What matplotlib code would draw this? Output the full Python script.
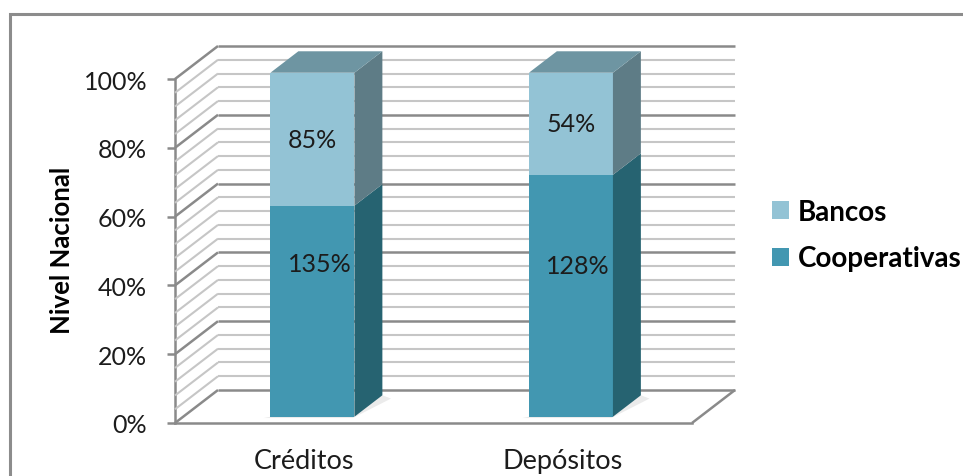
import matplotlib
matplotlib.use("Agg")
import matplotlib.pyplot as plt
import numpy as np
from matplotlib.patches import Polygon, Rectangle, Patch
from matplotlib.lines import Line2D
from matplotlib.transforms import IdentityTransform

# ---------------- data ----------------
categories = ["Créditos", "Depósitos"]
cooperativas = [135, 128]   # data labels of the lower segment
bancos = [85, 54]           # data labels of the upper segment
ytick_values = [0, 20, 40, 60, 80, 100]
ytick_labels = ["0%", "20%", "40%", "60%", "80%", "100%"]
ylabel = "Nivel Nacional"
legend_labels = ["Bancos", "Cooperativas"]

# ---------------- style ----------------
plt.rcParams["font.family"] = ["Lato", "DejaVu Sans"]
TXT = "#1c1c1c"
C_BAN = ("#93C3D5", "#5E7C86", "#6E95A2")   # front, side, top
C_COO = ("#4297B1", "#266371", "#3C7F92")
GRID_MAJ = "#8a8a8a"
GRID_MIN = "#c6c6c6"
DEPTH = np.array([43.0, 33.0])   # pixel depth of the back wall
BAR_D0, BAR_D1 = 0.19, 0.84      # bar depth span (fraction of DEPTH)
BAR_W = 0.325
COOP_LABEL_Y = [44.5, 44.0]      # where the chart placed the lower labels
FS = 18

W, H, DPI = 963, 477, 100
fig = plt.figure(figsize=(W / DPI, H / DPI), dpi=DPI)
ax = fig.add_axes([175 / W, 53 / H, 517 / W, 344 / H])
ax.set_xlim(-0.5, len(categories) - 0.5)
ax.set_ylim(0, 100)
ax.patch.set_visible(False)

# 100 % stacked shares
coop = np.array(cooperativas, float)
ban = np.array(bancos, float)
coop_share = coop / (coop + ban) * 100
tops = np.full(len(categories), 100.0)

fig.canvas.draw()
T = ax.transData


def P(x, y, d):
    p = T.transform((x, y))
    return p + d * DEPTH


ID = IdentityTransform()


def line(pts, color, lw, z=1):
    pts = np.array(pts)
    fig.add_artist(Line2D(pts[:, 0], pts[:, 1], color=color, lw=lw,
                          transform=ID, zorder=z, solid_capstyle="butt"))


def poly(pts, color, z=3, alpha=1.0):
    fig.add_artist(Polygon(np.array(pts), closed=True, fc=color, ec="none",
                           transform=ID, zorder=z, alpha=alpha, lw=0))


x0, x1 = ax.get_xlim()
# gridlines on back wall and left side wall
for y in np.arange(0, 101, 4):
    major = (y % 20 == 0)
    col = GRID_MAJ if major else GRID_MIN
    lw = 1.8 if major else 1.5
    line([P(x0, y, 1), P(x1, y, 1)], col, lw, z=1)
    line([P(x0, y, 0), P(x0, y, 1)], col, lw, z=1)

# floor
line([P(x1, 0, 0), P(x1, 0, 1)], GRID_MAJ, 1.8, z=1)

# bars
for i in range(len(categories)):
    xa, xb = i - BAR_W / 2, i + BAR_W / 2
    # soft shadow on the floor
    poly([P(xa - 0.02, 0, BAR_D0 - 0.04), P(xb, 0, BAR_D0 - 0.04),
          P(xb + 0.05, 0, BAR_D1 - 0.1), P(xb, 0, BAR_D1)],
         "#b0b0b0", z=2, alpha=0.25)
    segs = [(0, coop_share[i], C_COO), (coop_share[i], tops[i], C_BAN)]
    for b, t, (cf, cs, ct) in segs:
        poly([P(xa, b, BAR_D0), P(xb, b, BAR_D0), P(xb, t, BAR_D0), P(xa, t, BAR_D0)], cf, z=4)
        poly([P(xb, b, BAR_D0), P(xb, b, BAR_D1), P(xb, t, BAR_D1), P(xb, t, BAR_D0)], cs, z=4)
    poly([P(xa, 100, BAR_D0), P(xb, 100, BAR_D0), P(xb, 100, BAR_D1), P(xa, 100, BAR_D1)], C_BAN[2], z=4)

    # data labels on the front face
    mid_b = (coop_share[i] + 100) / 2
    pb = P(i, mid_b, BAR_D0)
    fig.text(pb[0] / W, pb[1] / H, f"{bancos[i]}%", ha="center", va="center",
             fontsize=FS, color=TXT, zorder=6)
    pc = P(i, COOP_LABEL_Y[i], BAR_D0)
    fig.text((pc[0] + 7) / W, pc[1] / H, f"{cooperativas[i]}%", ha="center", va="center",
             fontsize=FS, color=TXT, zorder=6)

# axes styling
for s in ["top", "right"]:
    ax.spines[s].set_visible(False)
ax.spines["left"].set_color(GRID_MAJ)
ax.spines["left"].set_linewidth(1.8)
ax.spines["bottom"].set_color(GRID_MAJ)
ax.spines["bottom"].set_linewidth(1.8)
ax.set_yticks(ytick_values)
ax.set_yticklabels(ytick_labels)
ax.tick_params(axis="y", length=6, width=1.8, color=GRID_MAJ, pad=14,
               labelsize=FS, labelcolor=TXT)
ax.set_xticks(range(len(categories)))
ax.set_xticklabels(categories)
ax.tick_params(axis="x", length=0, pad=18, labelsize=19.5, labelcolor=TXT)

fig.text(62 / W, 1 - 250 / H, ylabel, rotation=90, ha="center", va="center",
         fontsize=18.5, fontweight="bold", color="black")

handles = [Patch(fc=C_BAN[0], ec="none"), Patch(fc=C_COO[0], ec="none")]
fig.legend(handles, legend_labels, loc="center left",
           bbox_to_anchor=(772 / W, 1 - 236 / H), frameon=False,
           prop={"weight": "bold", "size": 20}, handlelength=0.62, handleheight=0.62,
           handletextpad=0.3, labelspacing=0.75, borderaxespad=0, borderpad=0)

# outer chart frame (cropped at right and bottom)
fig.add_artist(Rectangle((10 / W, -0.1), 1.2, 1.1 - 15 / H, transform=fig.transFigure,
                         fill=False, ec="#8c8c8c", lw=2.2, zorder=0))

fig.savefig("out.png", dpi=DPI)
